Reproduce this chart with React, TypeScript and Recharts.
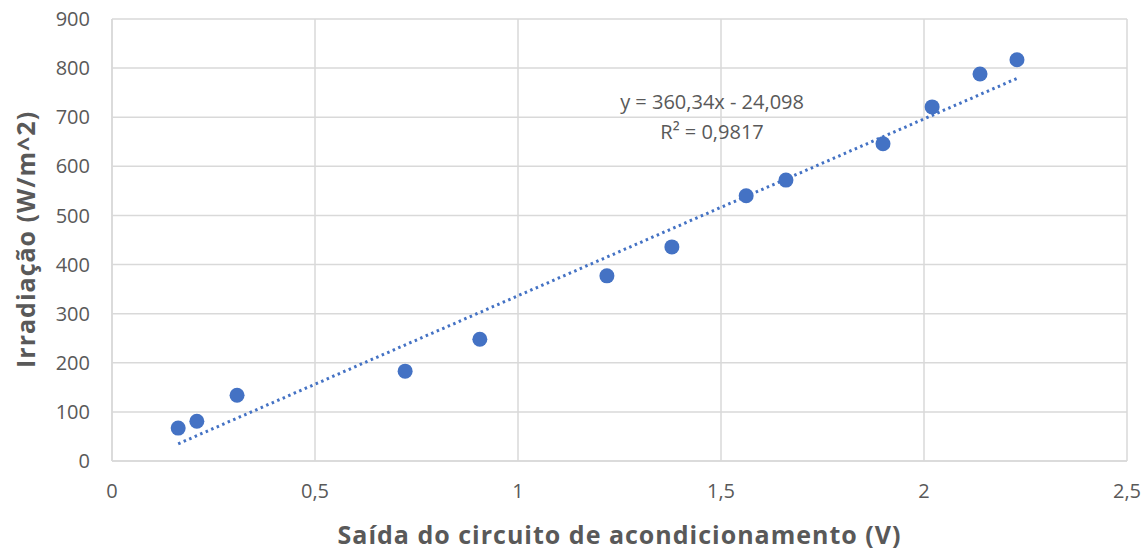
import React from 'react';
import { ScatterChart, Scatter, XAxis, YAxis, CartesianGrid, ReferenceDot } from 'recharts';

// tensão de saída (V) e irradiação (W/m^2)
const voltage = [0.163, 0.209, 0.308, 0.722, 0.906, 1.219, 1.379, 1.562, 1.66, 1.899, 2.02, 2.138, 2.229];
const irradiance = [67, 81, 134, 183, 248, 377, 436, 540, 572, 646, 721, 788, 817];

// extremos da linha de tendência linear
const trendX = [0.163, 2.229];
const trendY = [35, 779];

const xTicks = [0, 0.5, 1, 1.5, 2, 2.5];
const yTicks = [0, 100, 200, 300, 400, 500, 600, 700, 800, 900];

const equation = 'y = 360,34x - 24,098';
const rSquared = 'R² = 0,9817';

const points = voltage.map((x, i) => ({ x, y: irradiance[i] }));
const trend = trendX.map((x, i) => ({ x, y: trendY[i] }));

const font = 'Open Sans, Liberation Sans, sans-serif';
const gray = '#595959';
const blue = '#4472C4';

const fmt = (v: number) => String(v).replace('.', ',');

const EquationLabel = (props: any) => {
  const { viewBox } = props;
  const cx = viewBox.x;
  const cy = viewBox.y;
  return (
    <g fontFamily={font} fontSize={20} fill={gray} textAnchor="middle">
      <text x={cx} y={cy + 7}>{equation}</text>
      <text x={cx} y={cy + 37}>{rSquared}</text>
    </g>
  );
};

export default function App() {
  return (
    <div style={{ position: 'absolute', left: 0, top: 0, background: '#fff' }}>
      <ScatterChart width={1148} height={552} margin={{ top: 19, right: 21, bottom: 0, left: 0 }}>
        <CartesianGrid stroke="#d9d9d9" strokeWidth={1.5} />
        <XAxis
          type="number"
          dataKey="x"
          height={91}
          domain={[0, 2.5]}
          ticks={xTicks}
          tickFormatter={fmt}
          axisLine={{ stroke: '#d9d9d9', strokeWidth: 1.5 }}
          tickLine={false}
          tickSize={0}
          tickMargin={23}
          tick={{ fill: gray, fontSize: 20, fontFamily: font }}
          label={{
            value: 'Saída do circuito de acondicionamento (V)',
            position: 'insideBottom',
            offset: 8,
            fill: gray,
            fontSize: 25,
            fontWeight: 700,
            letterSpacing: 1,
            fontFamily: font,
          }}
        />
        <YAxis
          type="number"
          dataKey="y"
          width={112}
          domain={[0, 900]}
          ticks={yTicks}
          axisLine={{ stroke: '#d9d9d9', strokeWidth: 1.5 }}
          tickLine={false}
          tickSize={0}
          tickMargin={22}
          tick={{ fill: gray, fontSize: 20, fontFamily: font }}
          label={{
            value: 'Irradiação (W/m^2)',
            angle: -90,
            position: 'insideLeft',
            offset: 26,
            dy: 128,
            fill: gray,
            fontSize: 25,
            fontWeight: 700,
            letterSpacing: 1,
            fontFamily: font,
          }}
        />
        <Scatter
          data={trend}
          line={{ stroke: blue, strokeWidth: 3, strokeDasharray: '2.5 3.5' }}
          shape={() => <g />}
          isAnimationActive={false}
        />
        <Scatter data={points} fill={blue} isAnimationActive={false} shape={(p: any) => <circle cx={p.cx} cy={p.cy} r={7.5} fill={blue} />} />
        <ReferenceDot x={1.478} y={730} r={0} fill="none" stroke="none" label={<EquationLabel />} />
      </ScatterChart>
    </div>
  );
}
